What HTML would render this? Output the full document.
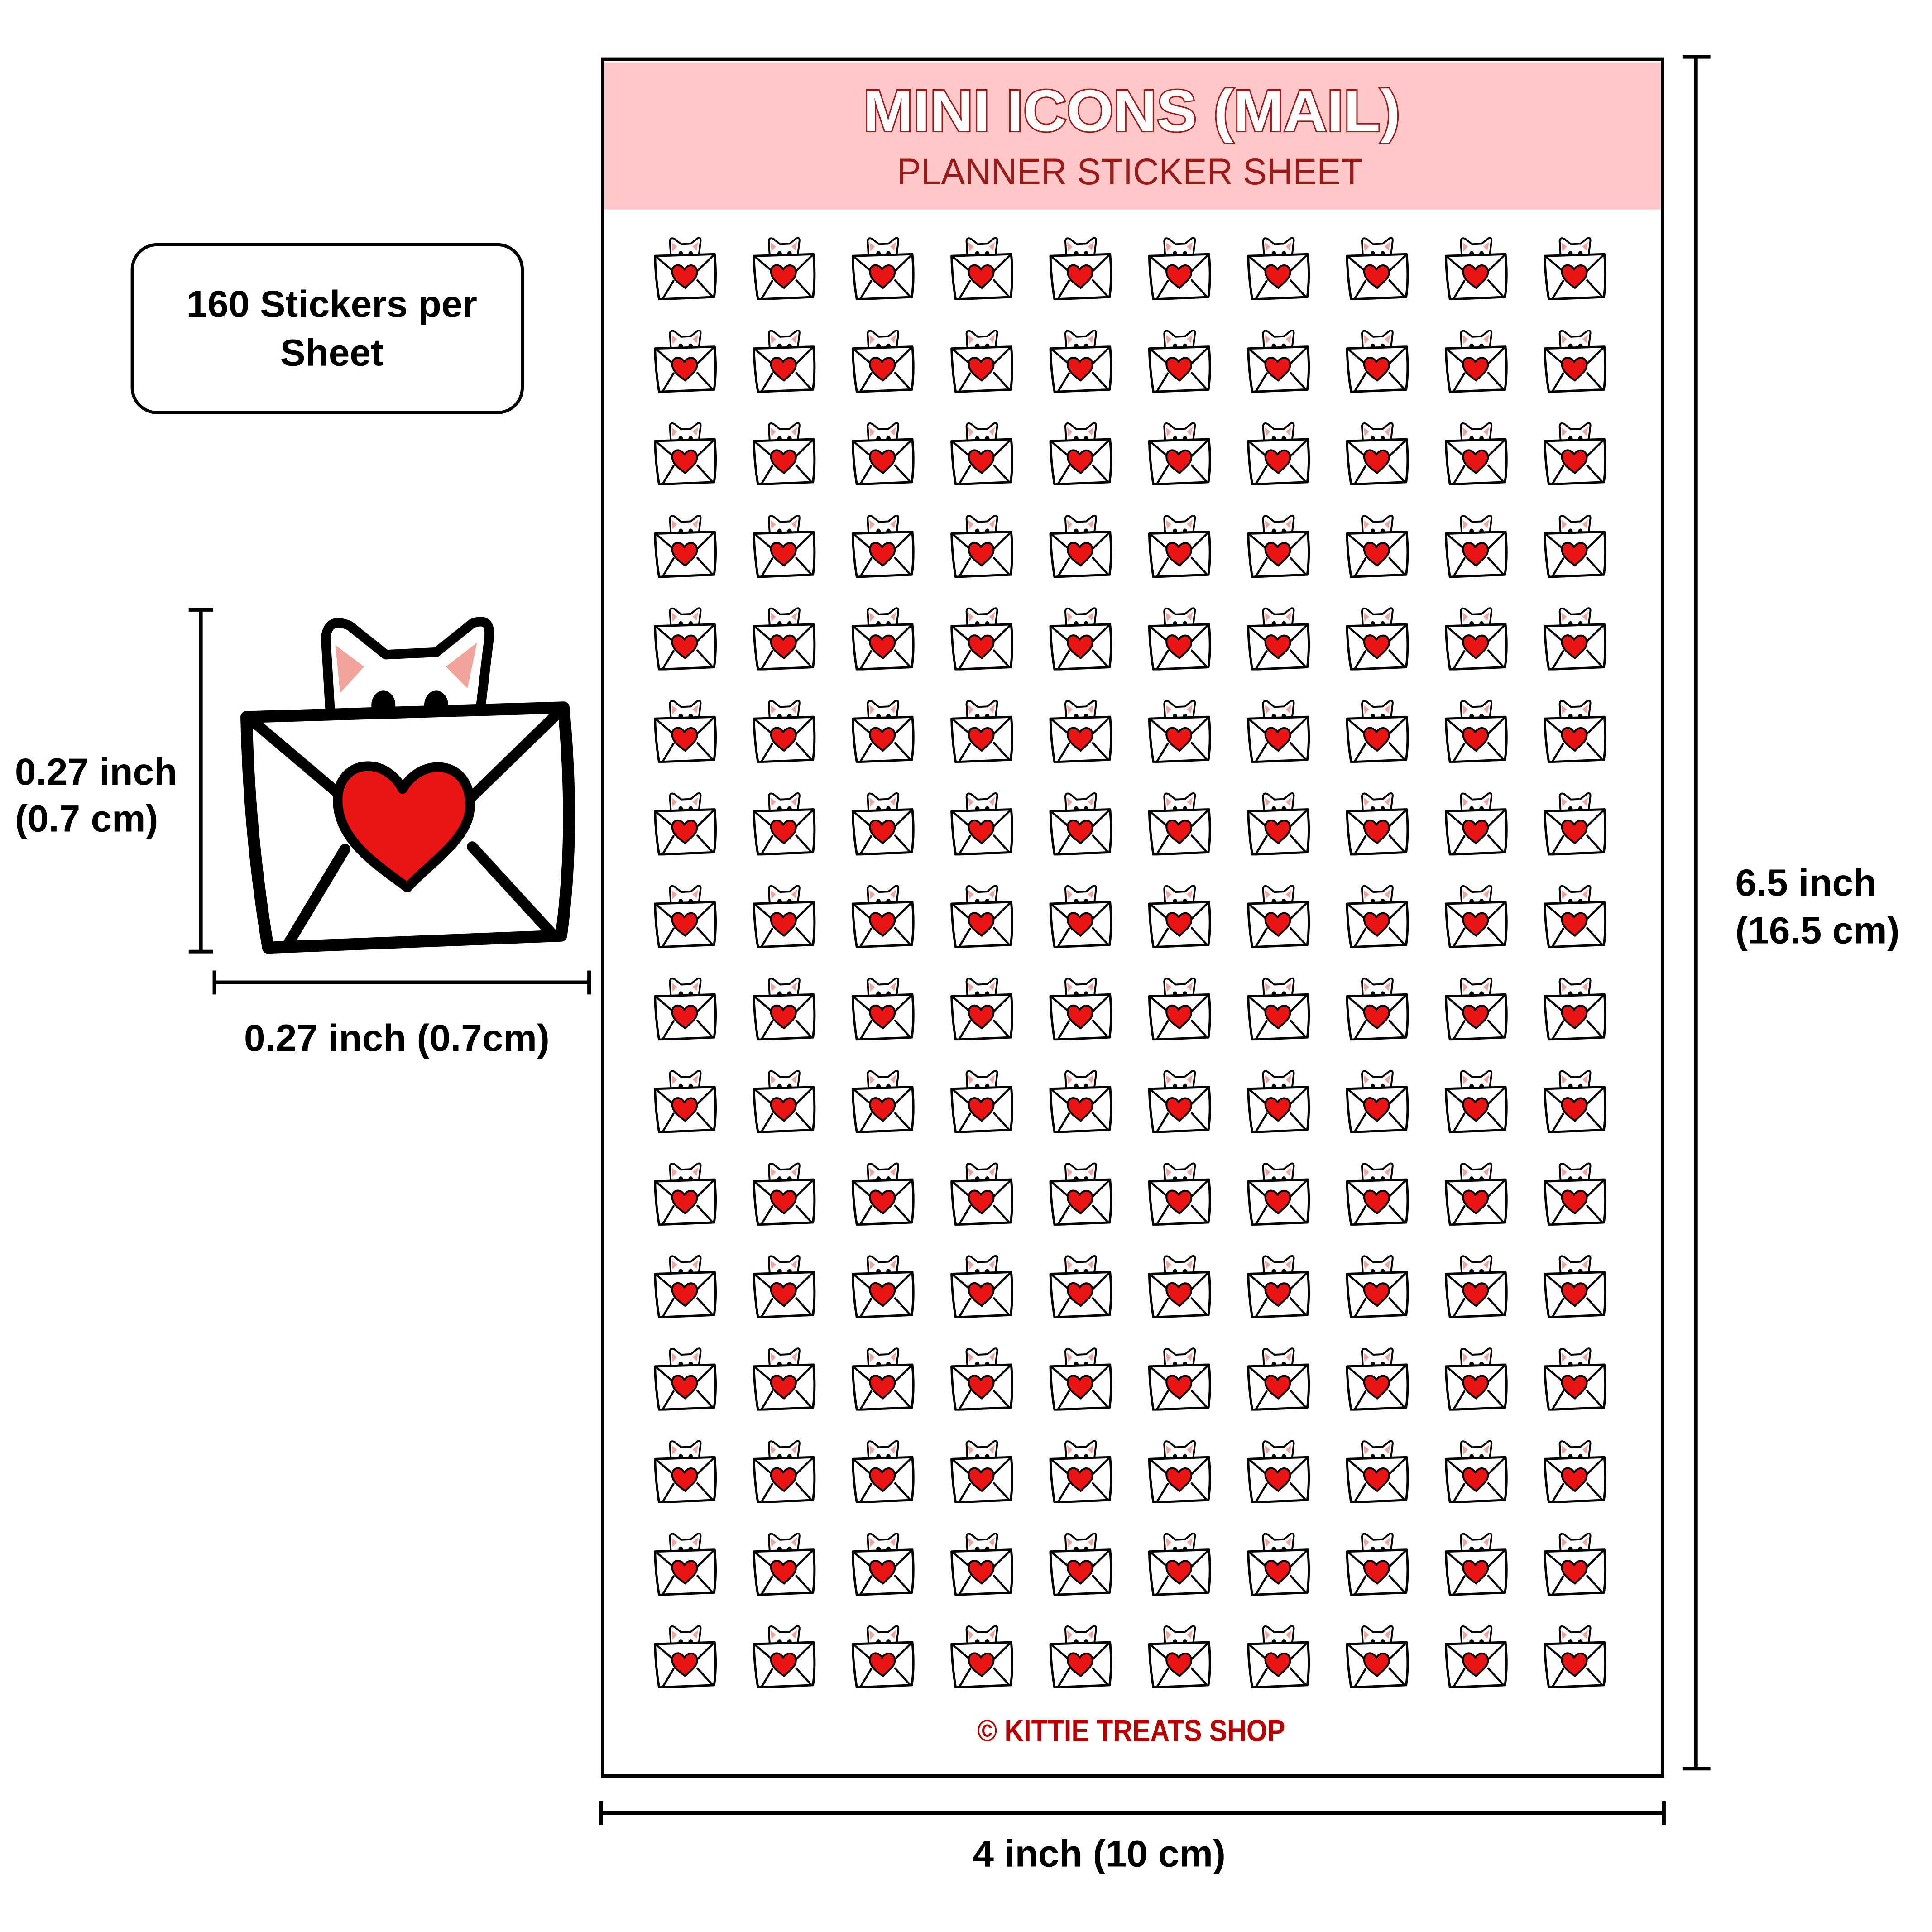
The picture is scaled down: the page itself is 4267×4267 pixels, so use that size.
<!DOCTYPE html>
<html><head><meta charset="utf-8"><style>
html,body{margin:0;padding:0;background:#fff}
svg{display:block}
text{font-family:"Liberation Sans",sans-serif}
</style></head><body>
<svg width="4267" height="4267" viewBox="0 0 4267 4267" xmlns="http://www.w3.org/2000/svg">
<defs>
<symbol id="ic" viewBox="0 0 140 140">
<g stroke="#000" stroke-linejoin="round" stroke-linecap="round">
<path d="M38,42 L36,9 Q37,0 46,4 L61,16 L82,15 L97,3 Q105,0 104,9 L100,42 Z" fill="#fff" stroke-width="4"/>
<path d="M40,12 L42,32 L52,21 Z" fill="#f2a49c" stroke="none"/>
<path d="M99,11 L95,30 L86,21 Z" fill="#f2a49c" stroke="none"/>
<ellipse cx="60" cy="37" rx="5" ry="6" fill="#000" stroke="none"/>
<ellipse cx="82" cy="37" rx="5" ry="6" fill="#000" stroke="none"/>
<path d="M3,42 L135,38 Q140,90 134,133 L12,138 Q4,90 3,42 Z" fill="#fff" stroke-width="5"/>
<path d="M6,44 L45,77 M132,41 L96,76 M44,97 L20,137 M97,96 L130,132" fill="none" stroke-width="4.5"/>
<path d="M68,72 C60,57 40,60 41,78 C42,94 58,104 70,113 C80,102 97,92 96,78 C96,60 76,58 68,72 Z" fill="#ea1414" stroke-width="4"/>
</g>
</symbol>
</defs>
<g transform="scale(0.997)">
<rect x="1335" y="131" width="2348" height="3803" fill="#fff" stroke="#000" stroke-width="8"/>
<rect x="1339" y="139" width="2340" height="325" fill="#fec8c9"/>
<text x="2507" y="290" text-anchor="middle" font-size="130" font-weight="bold" fill="#fff" stroke="#9b1b1b" stroke-width="6" paint-order="stroke" textLength="1190" lengthAdjust="spacingAndGlyphs">MINI ICONS (MAIL)</text>
<text x="2503" y="408" text-anchor="middle" font-size="82" fill="#9b1b1b" textLength="1032" lengthAdjust="spacingAndGlyphs">PLANNER STICKER SHEET</text>
<text x="2506" y="3857" text-anchor="middle" font-size="68" font-weight="bold" fill="#b80000" textLength="682" lengthAdjust="spacingAndGlyphs">© KITTIE TREATS SHOP</text>

<g id="grid">
<g id="row">
<use href="#ic" x="1448" y="525" width="140" height="140"/>
<use href="#ic" x="1667" y="525" width="140" height="140"/>
<use href="#ic" x="1886" y="525" width="140" height="140"/>
<use href="#ic" x="2105" y="525" width="140" height="140"/>
<use href="#ic" x="2324" y="525" width="140" height="140"/>
<use href="#ic" x="2543" y="525" width="140" height="140"/>
<use href="#ic" x="2762" y="525" width="140" height="140"/>
<use href="#ic" x="2981" y="525" width="140" height="140"/>
<use href="#ic" x="3200" y="525" width="140" height="140"/>
<use href="#ic" x="3419" y="525" width="140" height="140"/>
</g>
<use href="#row" y="205"/><use href="#row" y="410"/><use href="#row" y="615"/>
<use href="#row" y="820"/><use href="#row" y="1025"/><use href="#row" y="1230"/>
<use href="#row" y="1435"/><use href="#row" y="1640"/><use href="#row" y="1845"/>
<use href="#row" y="2050"/><use href="#row" y="2255"/><use href="#row" y="2460"/>
<use href="#row" y="2665"/><use href="#row" y="2870"/><use href="#row" y="3075"/>
</g>

<rect x="293" y="542" width="864" height="372" rx="55" fill="#fff" stroke="#000" stroke-width="7"/>
<text x="735" y="702" text-anchor="middle" font-size="84" font-weight="bold">160 Stickers per</text>
<text x="735" y="810" text-anchor="middle" font-size="84" font-weight="bold">Sheet</text>

<use href="#ic" x="530" y="1355" width="745" height="765" preserveAspectRatio="none"/>

<g stroke="#000" stroke-width="8" fill="none">
<path d="M445,1351 V2108 M418,1351 H472 M418,2108 H472"/>
<path d="M475,2176 H1305 M475,2150 V2203 M1305,2150 V2203"/>
<path d="M3757,126 V3918 M3727,126 H3789 M3727,3918 H3789"/>
<path d="M1332,4016 H3686 M1332,3990 V4043 M3686,3990 V4043"/>
</g>
<g font-size="84" font-weight="bold">
<text x="33" y="1738">0.27 inch</text>
<text x="33" y="1842">(0.7 cm)</text>
<text x="879" y="2328" text-anchor="middle">0.27 inch (0.7cm)</text>
<text x="3844" y="1984">6.5 inch</text>
<text x="3844" y="2090">(16.5 cm)</text>
<text x="2435" y="4135" text-anchor="middle">4 inch (10 cm)</text>
</g>
</g>
</svg>
</body></html>
